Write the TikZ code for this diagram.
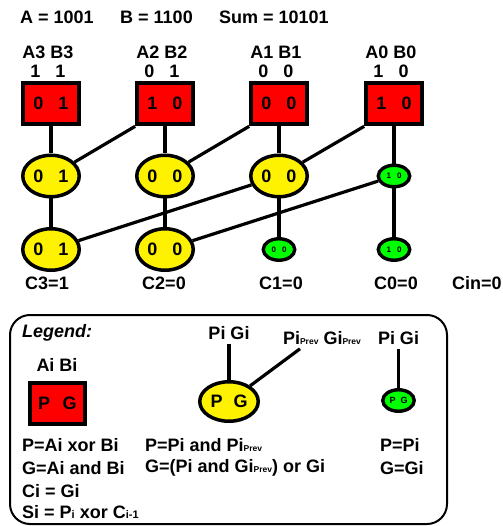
\documentclass[tikz,border=0pt]{standalone}
\usepackage{fontspec}
\setmainfont{Liberation Sans}
\usepackage{tikz}
\usetikzlibrary{shapes.geometric}

\newcommand{\subtxt}[1]{{\fontsize{8.5}{9}\selectfont #1}}

\begin{document}
\begin{tikzpicture}[x=1pt,y=-1pt,
  txt/.style={font=\fontsize{18}{20}\selectfont\bfseries,inner sep=0pt},
  lbl/.style={txt,inner sep=4pt},
  wire/.style={line width=3.2pt},
  redbox/.style={txt,draw,line width=4.2pt,fill=red,minimum width=55.5pt,minimum height=41.5pt},
  yel/.style={txt,ellipse,draw,line width=3.5pt,fill=yellow,minimum width=56.5pt,minimum height=41.5pt},
  grn/.style={ellipse,draw,line width=3.4pt,fill=green,inner sep=0pt,minimum width=31.5pt,minimum height=21.5pt,font=\fontsize{8}{9}\selectfont\bfseries}]
  \useasboundingbox (0,0) rectangle (502,526);
  \node[txt,anchor=west] (va) at (20,17) {A = 1001};
  \node[txt,anchor=west] (vb) at (120,17) {B = 1100};
  \node[txt,anchor=west] (vs) at (219,17) {Sum = 10101};
  \foreach \x/\n/\a/\b/\p/\g in {51/3/1/1/0/1, 165/2/0/1/1/0, 279/1/0/0/0/0, 394/0/1/0/1/0} {
    \node[txt] (hd\n) at ({\x-3},52) {A\n\ B\n};
    \node[txt] (ab\n) at ({\x-3},71) {\a\hspace{15pt}\b};
    \node[redbox] (rb\n) at (\x,103.5) {\p\hspace{15pt}\g};
  }
  \node[yel] (pg3) at (51,176) {0\hspace{15pt}1};
  \node[yel] (pg2) at (165,176) {0\hspace{15pt}0};
  \node[yel] (pg1) at (279,176) {0\hspace{15pt}0};
  \node[grn] (pg0) at (394,176) {1\hspace{6pt}0};
  \node[yel] (cg3) at (51,249.5) {0\hspace{15pt}1};
  \node[yel] (cg2) at (165,249.5) {0\hspace{15pt}0};
  \node[grn] (cg1) at (279,249.5) {0\hspace{6pt}0};
  \node[grn] (cg0) at (394,249.5) {1\hspace{6pt}0};
  \foreach \n in {3,2,1,0} \draw[wire] (rb\n) -- (pg\n);
  \foreach \n/\m in {2/3,1/2,0/1} \draw[wire] (rb\n.south west) -- (pg\m);
  \foreach \n in {3,2,1,0} \draw[wire] (pg\n) -- (cg\n);
  \draw[wire] (pg1) -- (cg3);
  \draw[wire] (pg0) -- (cg2);
  \node[txt] (c3) at (47,283) {C3=1};
  \node[txt] (c2) at (164,283) {C2=0};
  \node[txt] (c1) at (281,283) {C1=0};
  \node[txt] (c0) at (396,283) {C0=0};
  \node[txt,anchor=west] (cin) at (452,283) {Cin=0};
  \draw[line width=2pt,rounded corners=20pt] (10,315) rectangle (447,524);
  \node[txt,anchor=west] (lgd) at (22,333) {\itshape Legend:};
  \node[txt] (lab) at (57,365) {Ai Bi};
  \node[redbox] (lrb) at (57.5,403.5) {P\hspace{12.5pt}G};
  \node[txt,anchor=west] (ls1) at (22,445) {P=Ai xor Bi};
  \node[txt,anchor=west] (ls2) at (22,468) {G=Ai and Bi};
  \node[txt,anchor=west] (ls3) at (22,491) {Ci = Gi};
  \node[txt,anchor=west] (ls4) at (22,512) {Si = P{\fontsize{11}{12}\selectfont i} xor C{\fontsize{11}{12}\selectfont i-1}};
  \node[lbl] (lpg) at (229,333) {Pi Gi};
  \node[lbl] (lprv) at (322,338) {Pi\subtxt{Prev} Gi\subtxt{Prev}};
  \node[yel,minimum width=58.5pt,minimum height=39.5pt] (lpy) at (229,401.5) {P\hspace{11pt}G};
  \draw[wire] (lpg) -- (lpy);
  \draw[wire] ([xshift=-22pt]lprv.south) -- (lpy);
  \node[txt,anchor=west] (lm1) at (145,445) {P=Pi and Pi\subtxt{Prev}};
  \node[txt,anchor=west] (lm2) at (145,468) {G=(Pi and Gi\subtxt{Prev}) or Gi};
  \node[lbl] (lpg0) at (398.5,338) {Pi Gi};
  \node[grn,font=\fontsize{9}{10}\selectfont\bfseries] (lgn) at (398.5,400.5) {P\hspace{5pt}G};
  \draw[wire] (lpg0) -- (lgn);
  \node[txt,anchor=west] (lr1) at (380,445) {P=Pi};
  \node[txt,anchor=west] (lr2) at (380,468) {G=Gi};
\end{tikzpicture}
\end{document}
